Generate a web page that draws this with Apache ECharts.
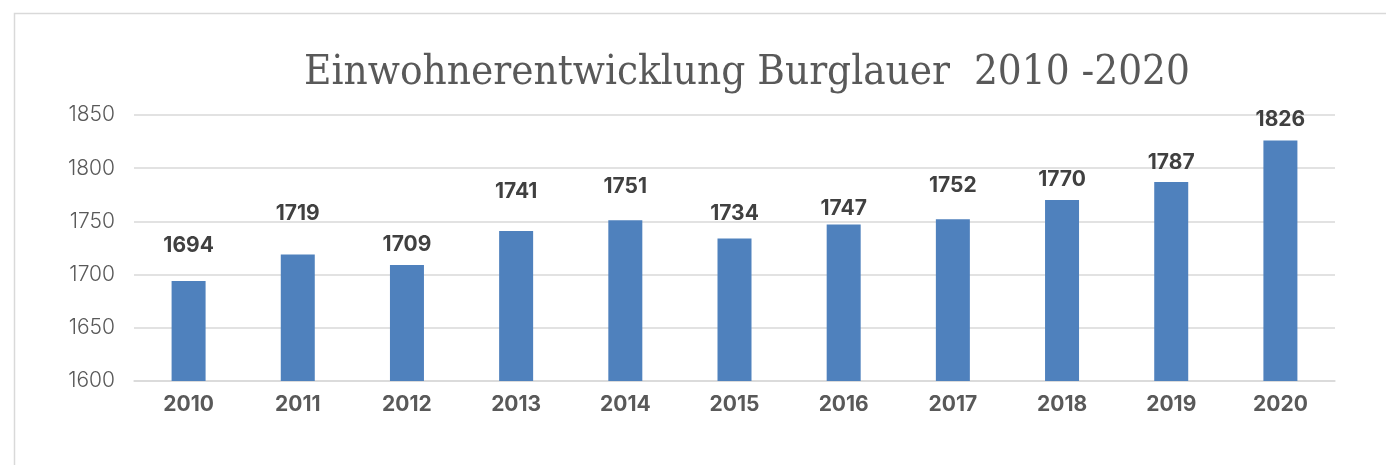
<!DOCTYPE html>
<html>
<head>
<meta charset="utf-8">
<script src="https://cdn.jsdelivr.net/npm/echarts@6/dist/echarts.min.js"></script>
<style>
  html, body { margin: 0; padding: 0; background: #fff; }
  #main { width: 1386px; height: 465px; }
</style>
</head>
<body>
<div id="main"></div>
<script>
var years = ['2010', '2011', '2012', '2013', '2014', '2015', '2016', '2017', '2018', '2019', '2020'];
var residents = [1694, 1719, 1709, 1741, 1751, 1734, 1747, 1752, 1770, 1787, 1826];
var yTicks = [1600, 1650, 1700, 1750, 1800, 1850];

// the value labels sit at slightly different heights above each bar
var labelGap = [25, 30, 10, 29, 23, 14, 5, 23, 10, 9, 10];

var chart = echarts.init(document.getElementById('main'));

var barData = residents.map(function (v, i) {
    return { value: v, label: { distance: labelGap[i] } };
});

var option = {
    animation: false,
    graphic: [{
        type: 'rect',
        shape: { x: 14.5, y: 13.5, width: 1450, height: 520 },
        style: { fill: 'none', stroke: '#d9d9d9', lineWidth: 1.5 },
        silent: true
    }],
    title: {
        text: 'Einwohnerentwicklung Burglauer  2010 -2020',
        left: 299,
        top: 47,
        textStyle: {
            fontFamily: 'DejaVu Serif Condensed',
            fontWeight: 'normal',
            fontSize: 41.8,
            color: '#595959'
        }
    },
    grid: {
        left: 134,
        right: 51,
        top: 115,
        bottom: 84
    },
    xAxis: {
        type: 'category',
        data: years,
        axisLine: { lineStyle: { color: '#d9d9d9', width: 1.5 } },
        axisTick: { show: false },
        axisLabel: {
            margin: 13,
            fontFamily: 'Inter',
            fontWeight: 'bold',
            fontSize: 21,
            color: '#595959'
        }
    },
    yAxis: {
        type: 'value',
        min: yTicks[0],
        max: yTicks[yTicks.length - 1],
        interval: 50,
        axisLine: { show: false },
        axisTick: { show: false },
        splitLine: { lineStyle: { color: '#d9d9d9', width: 1.5 } },
        axisLabel: {
            margin: 19,
            formatter: function (v) { return String(v); },
            fontFamily: 'Inter',
            fontWeight: 300,
            fontSize: 21,
            color: '#595959'
        }
    },
    series: [{
        type: 'bar',
        data: barData,
        barWidth: 34,
        itemStyle: { color: '#4f81bd' },
        label: {
            show: true,
            position: 'top',
            fontFamily: 'Inter',
            fontWeight: 'bold',
            fontSize: 21,
            color: '#404040'
        }
    }]
};

chart.setOption(option);
</script>
</body>
</html>
